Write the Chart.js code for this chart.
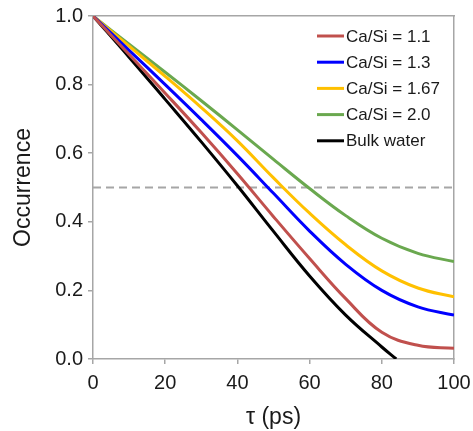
<!DOCTYPE html>
<html lang="en">

<head>
  <meta charset="UTF-8">
  <title>Occurrence vs tau</title>
  <script src="https://cdn.jsdelivr.net/npm/chart.js"></script>
  <style>
    html, body { margin: 0; padding: 0; background: #fff; }
    #wrap { width: 473px; height: 431px; }
  </style>
</head>

<body>
  <div id="wrap"><canvas id="occChart" width="473" height="431"></canvas></div>

  <script>
    // time axis (ps) and occurrence for each Ca/Si ratio
    const tauPs = [0, 10, 20, 30, 40, 50, 60, 70, 80, 90, 100];
    const caSi11 = [1.0, 0.888, 0.775, 0.66, 0.54, 0.415, 0.293, 0.176, 0.078, 0.04, 0.031];
    const caSi13 = [1.0, 0.9, 0.8, 0.698, 0.593, 0.483, 0.373, 0.276, 0.2, 0.152, 0.128];
    const caSi167 = [1.0, 0.912, 0.824, 0.733, 0.636, 0.528, 0.425, 0.333, 0.257, 0.207, 0.181];
    const caSi20 = [1.0, 0.918, 0.836, 0.753, 0.668, 0.582, 0.497, 0.418, 0.352, 0.308, 0.284];
    // bulk water drops to zero before 100 ps
    const bulkTau = [0, 10, 20, 30, 40, 50, 60, 70, 80, 84];
    const bulkWater = [1.0, 0.88, 0.757, 0.633, 0.505, 0.372, 0.242, 0.128, 0.035, 0.0];

    const seriesNames = ['Ca/Si = 1.1', 'Ca/Si = 1.3', 'Ca/Si = 1.67', 'Ca/Si = 2.0', 'Bulk water'];
    const seriesColors = ['#c0504d', '#0000ff', '#ffc000', '#6aa84f', '#000000'];
    const halfLevel = 0.5;

    const xTicks = [0, 20, 40, 60, 80, 100];
    const yTicks = [0, 0.2, 0.4, 0.6, 0.8, 1.0];

    const FONT = '"Liberation Sans", Arial, sans-serif';
    const AXIS_GRAY = '#a6a6a6';
    const TEXT = '#1a1a1a';

    function toPoints(xs, ys) {
      return xs.map((x, i) => ({ x: x, y: ys[i] }));
    }

    const curves = [
      toPoints(tauPs, caSi11),
      toPoints(tauPs, caSi13),
      toPoints(tauPs, caSi167),
      toPoints(tauPs, caSi20),
      toPoints(bulkTau, bulkWater),
    ];

    const datasets = curves.map((pts, i) => ({
      label: seriesNames[i],
      data: pts,
      borderColor: seriesColors[i],
      backgroundColor: seriesColors[i],
      borderWidth: 3,
      pointRadius: 0,
      tension: 0.4,
      fill: false,
    }));

    // dashed reference line at occurrence = 0.5
    datasets.push({
      label: 'half',
      data: [{ x: xTicks[0], y: halfLevel }, { x: xTicks[xTicks.length - 1], y: halfLevel }],
      borderColor: AXIS_GRAY,
      borderWidth: 2,
      borderDash: [8, 5],
      pointRadius: 0,
      fill: false,
    });

    // legend drawn inside the plot, top right
    const insideLegend = {
      id: 'insideLegend',
      afterDatasetsDraw(chart) {
        const ctx = chart.ctx;
        const area = chart.chartArea;
        const x0 = area.right - 137;
        ctx.save();
        ctx.font = '17px ' + FONT;
        ctx.textBaseline = 'middle';
        ctx.textAlign = 'left';
        seriesNames.forEach((name, i) => {
          const y = area.top + 20 + i * 26.2;
          ctx.strokeStyle = seriesColors[i];
          ctx.lineWidth = 3;
          ctx.beginPath();
          ctx.moveTo(x0, y);
          ctx.lineTo(x0 + 27, y);
          ctx.stroke();
          ctx.fillStyle = TEXT;
          ctx.fillText(name, x0 + 29, y + 1);
        });
        ctx.restore();
      }
    };

    // keep the plot box fixed; tick labels may overhang the edges
    function noPad(s) {
      s.paddingLeft = 0;
      s.paddingRight = 0;
      s.paddingTop = 0;
      s.paddingBottom = 0;
    }

    const ctx = document.getElementById('occChart').getContext('2d');
    new Chart(ctx, {
      type: 'line',
      data: { datasets: datasets },
      plugins: [insideLegend],
      options: {
        responsive: false,
        animation: false,
        layout: { padding: { left: 0, right: 19, top: 16, bottom: 0 } },
        plugins: {
          legend: { display: false },
          tooltip: { enabled: false },
        },
        scales: {
          x: {
            type: 'linear',
            position: 'bottom',
            min: xTicks[0],
            max: xTicks[xTicks.length - 1],
            afterBuildTicks: (s) => { s.ticks = xTicks.map(v => ({ value: v })); },
            afterFit: (s) => { s.height = 72; noPad(s); },
            grid: { drawOnChartArea: false, drawTicks: true, tickLength: 5, color: AXIS_GRAY, lineWidth: 1.5 },
            border: { color: AXIS_GRAY, width: 1.5 },
            ticks: { color: TEXT, font: { family: FONT, size: 20 }, padding: 7, maxRotation: 0 },
            title: { display: true, text: 'τ (ps)', color: TEXT, font: { family: FONT, size: 23 }, padding: { top: 0, bottom: 0 } },
          },
          y: {
            type: 'linear',
            position: 'left',
            min: yTicks[0],
            max: yTicks[yTicks.length - 1],
            afterBuildTicks: (s) => { s.ticks = yTicks.map(v => ({ value: v })); },
            afterFit: (s) => { s.width = 93; noPad(s); },
            grid: { drawOnChartArea: false, drawTicks: true, tickLength: 5, color: AXIS_GRAY, lineWidth: 1.5 },
            border: { color: AXIS_GRAY, width: 1.5 },
            ticks: { color: TEXT, font: { family: FONT, size: 20 }, padding: 5, callback: (v) => v.toFixed(1) },
            title: { display: true, text: 'Occurrence', color: TEXT, font: { family: FONT, size: 23 }, padding: { top: 10, bottom: 0 } },
          },
          xTop: {
            type: 'linear',
            position: 'top',
            min: 0,
            max: 100,
            afterFit: (s) => { s.height = 0; noPad(s); },
            grid: { display: false },
            border: { color: AXIS_GRAY, width: 1.5 },
            ticks: { display: false },
          },
          yRight: {
            type: 'linear',
            position: 'right',
            min: 0,
            max: 1,
            afterFit: (s) => { s.width = 0; noPad(s); },
            grid: { display: false },
            border: { color: AXIS_GRAY, width: 1.5 },
            ticks: { display: false },
          },
        },
      },
    });
  </script>
</body>

</html>
